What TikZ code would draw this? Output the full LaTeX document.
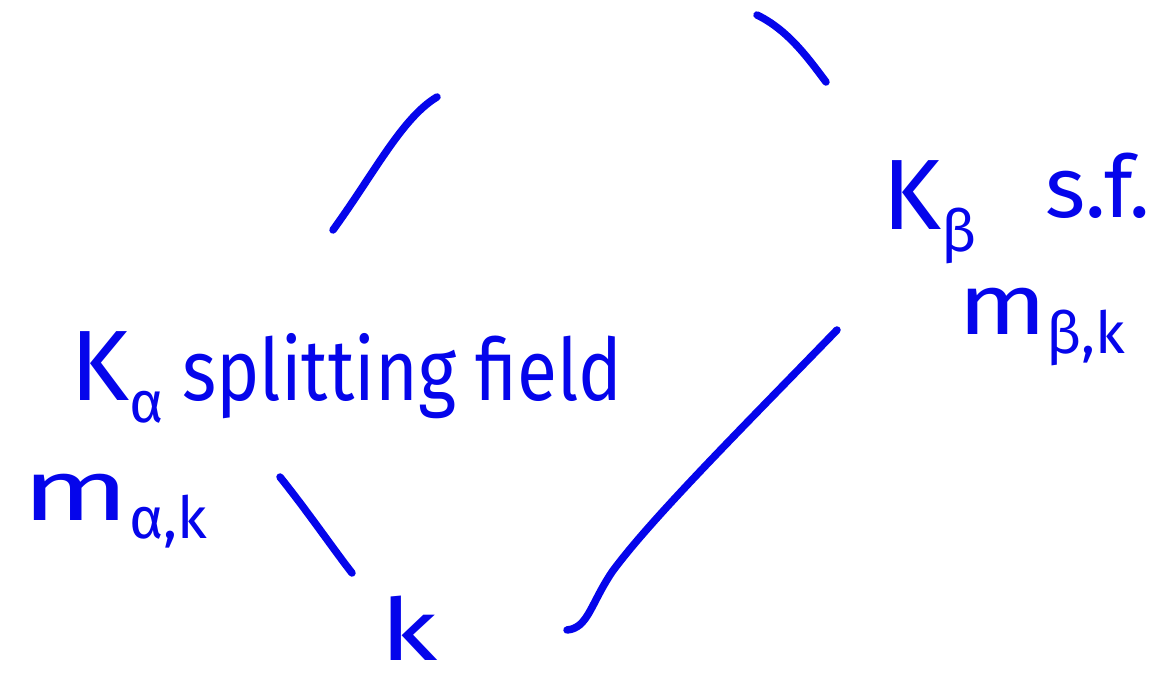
\documentclass[tikz,border=0pt]{standalone}
\usepackage{fontspec}
\setmainfont{Fira Sans}
\definecolor{ink}{RGB}{5,5,235}
\newcommand\lowsub[1]{\raisebox{-0.22em}{\fontsize{58}{60}\selectfont #1}}
\begin{document}
\begin{tikzpicture}[x=1pt,y=-1pt,line join=round,line cap=round]
	\tikzset{pen/.style={ink,line width=7.5pt},
		lbl/.style={ink,anchor=base west,inner sep=0pt,font=\fontsize{100}{104}\selectfont},
		sub/.style={ink,anchor=base west,inner sep=0pt,font=\fontsize{86}{90}\selectfont}}
	\useasboundingbox (0,0) rectangle (1170,684);
	% labels
	\node[lbl] (Ka) at (70,400) {K\lowsub{α}};
	\node[sub] (split) at (182,400) {\scalebox{0.85}[1]{splitting field}};
	\node[sub] (ma) at (22,520) {\scalebox{1.45}[1]{m}\lowsub{α,k}};
	\node[lbl] (Kb) at (882,230) {K\lowsub{β}};
	\node[sub] (sf) at (1045,218) {s.f.};
	\node[sub] (mb) at (958,335) {\scalebox{1.2}[1]{m}\lowsub{β,k}};
	\node[sub] (k) at (380,660) {\scalebox{1.3}[1]{k}};
	% ends of the strokes
	\coordinate (a1) at (333,230); \coordinate (a2) at (437,97);
	\coordinate (b1) at (757,15);  \coordinate (b2) at (826,82);
	\coordinate (c1) at (280,477); \coordinate (c2) at (352,573);
	\coordinate (d1) at (837,330); \coordinate (d2) at (567,630);
	\draw[pen] (a1) .. controls (375,172) and (402,118) .. (a2);
	\draw[pen] (b1) .. controls (788,30) and (808,58) .. (b2);
	\draw[pen] (c1) .. controls (308,512) and (334,550) .. (c2);
	\draw[pen] (d1) .. controls (740,430) and (650,520) .. (612,572)
		.. controls (590,605) and (588,628) .. (d2);
\end{tikzpicture}
\end{document}
